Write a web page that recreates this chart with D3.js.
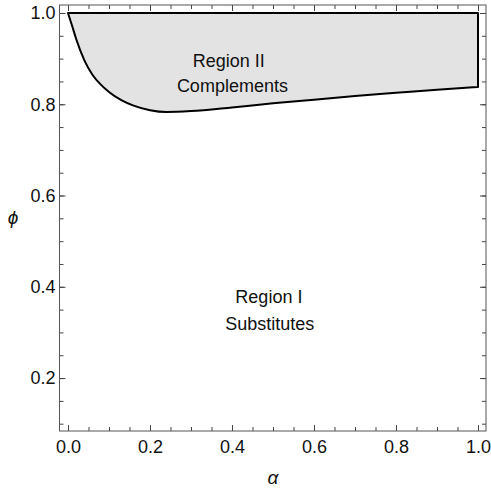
<!DOCTYPE html>
<html>
<head>
<meta charset="utf-8">
<script src="https://cdn.jsdelivr.net/npm/d3@7"></script>
<style>
  body { margin: 0; background: #fff; }
  text { font-family: "Liberation Sans", Arial, sans-serif; }
</style>
</head>
<body>
<svg id="chart"></svg>
<script>
// boundary of region II (phi as a function of alpha)
const alphaVals = [0, 0.01, 0.02, 0.04, 0.06, 0.08, 0.10, 0.13, 0.16, 0.20, 0.24, 0.30, 0.40, 0.50, 0.60, 0.70, 0.80, 0.90, 1.0];
const phiVals   = [1.0, 0.972, 0.943, 0.896, 0.864, 0.843, 0.827, 0.809, 0.797, 0.787, 0.783, 0.785, 0.793, 0.802, 0.810, 0.818, 0.825, 0.832, 0.838];

const xTicks = [0, 0.2, 0.4, 0.6, 0.8, 1.0];
const yTicks = [0.2, 0.4, 0.6, 0.8, 1.0];
const minorTicks = d3.range(0, 1.0001, 0.05);

const regionLabels = [
  {lines: ["Region II", "Complements"], a: [0.392, 0.401], p: [0.881, 0.826]},
  {lines: ["Region I", "Substitutes"], a: [0.49, 0.492], p: [0.364, 0.306]}
];

const width = 491, height = 491;

const svg = d3.select("#chart")
  .attr("width", width)
  .attr("height", height);

// frame area
const x = d3.scaleLinear().domain([-0.0207, 1.0195]).range([59.5, 486]);
const y = d3.scaleLinear().domain([0.084, 1.0175]).range([431, 5]);

// shaded region
const boundary = alphaVals.map((a, i) => [a, phiVals[i]]);
const line = d3.line().x(d => x(d[0])).y(d => y(d[1])).curve(d3.curveMonotoneX);
const regionPath = line(boundary) + "L" + x(1) + "," + y(1) + "L" + x(0) + "," + y(1) + "Z";

svg.append("path")
  .attr("d", regionPath)
  .attr("fill", "#e3e3e3")
  .attr("stroke", "#000")
  .attr("stroke-width", 2)
  .attr("stroke-linejoin", "round");

// axes: major + minor ticks on all four sides
const fmt = d3.format(".1f");
function addAxis(axis, tx, ty) {
  const g = svg.append("g").attr("transform", `translate(${tx},${ty})`).call(axis);
  g.select(".domain").remove();
  g.selectAll("line").attr("stroke", "#444");
  g.selectAll("text").attr("font-size", 18).attr("fill", "#111")
    .style("font-family", '"Liberation Sans", Arial, sans-serif');
  return g;
}

addAxis(d3.axisBottom(x).tickValues(minorTicks).tickSize(-4).tickFormat(""), 0, 431);
addAxis(d3.axisBottom(x).tickValues(xTicks).tickSize(-6).tickPadding(9).tickFormat(fmt), 0, 431);
addAxis(d3.axisTop(x).tickValues(minorTicks).tickSize(-4).tickFormat(""), 0, 5);
addAxis(d3.axisTop(x).tickValues(xTicks).tickSize(-6).tickFormat(""), 0, 5);

const yMinor = d3.range(0.1, 1.0001, 0.05);
addAxis(d3.axisLeft(y).tickValues(yMinor).tickSize(-4).tickFormat(""), 59.5, 0);
addAxis(d3.axisLeft(y).tickValues(yTicks).tickSize(-6).tickPadding(4).tickFormat(fmt), 59.5, 0);
addAxis(d3.axisRight(y).tickValues(yMinor).tickSize(-4).tickFormat(""), 486, 0);
addAxis(d3.axisRight(y).tickValues(yTicks).tickSize(-6).tickFormat(""), 486, 0);

// frame
svg.append("rect")
  .attr("x", 59.5).attr("y", 5)
  .attr("width", 486 - 59.5).attr("height", 431 - 5)
  .attr("fill", "none")
  .attr("stroke", "#555")
  .attr("stroke-width", 1);

// region labels
regionLabels.forEach(r => {
  r.lines.forEach((t, i) => {
    svg.append("text")
      .attr("x", x(r.a[i]))
      .attr("y", y(r.p[i]))
      .attr("text-anchor", "middle")
      .attr("font-size", 18)
      .attr("fill", "#111")
      .text(t);
  });
});

// axis titles
svg.append("text")
  .attr("x", 273).attr("y", 484)
  .attr("text-anchor", "middle")
  .attr("font-size", 19)
  .attr("font-style", "italic")
  .attr("fill", "#111")
  .text("α");

svg.append("text")
  .attr("x", 13).attr("y", 224)
  .attr("text-anchor", "middle")
  .attr("font-size", 19)
  .attr("font-style", "italic")
  .attr("fill", "#111")
  .text("ϕ");
</script>
</body>
</html>
